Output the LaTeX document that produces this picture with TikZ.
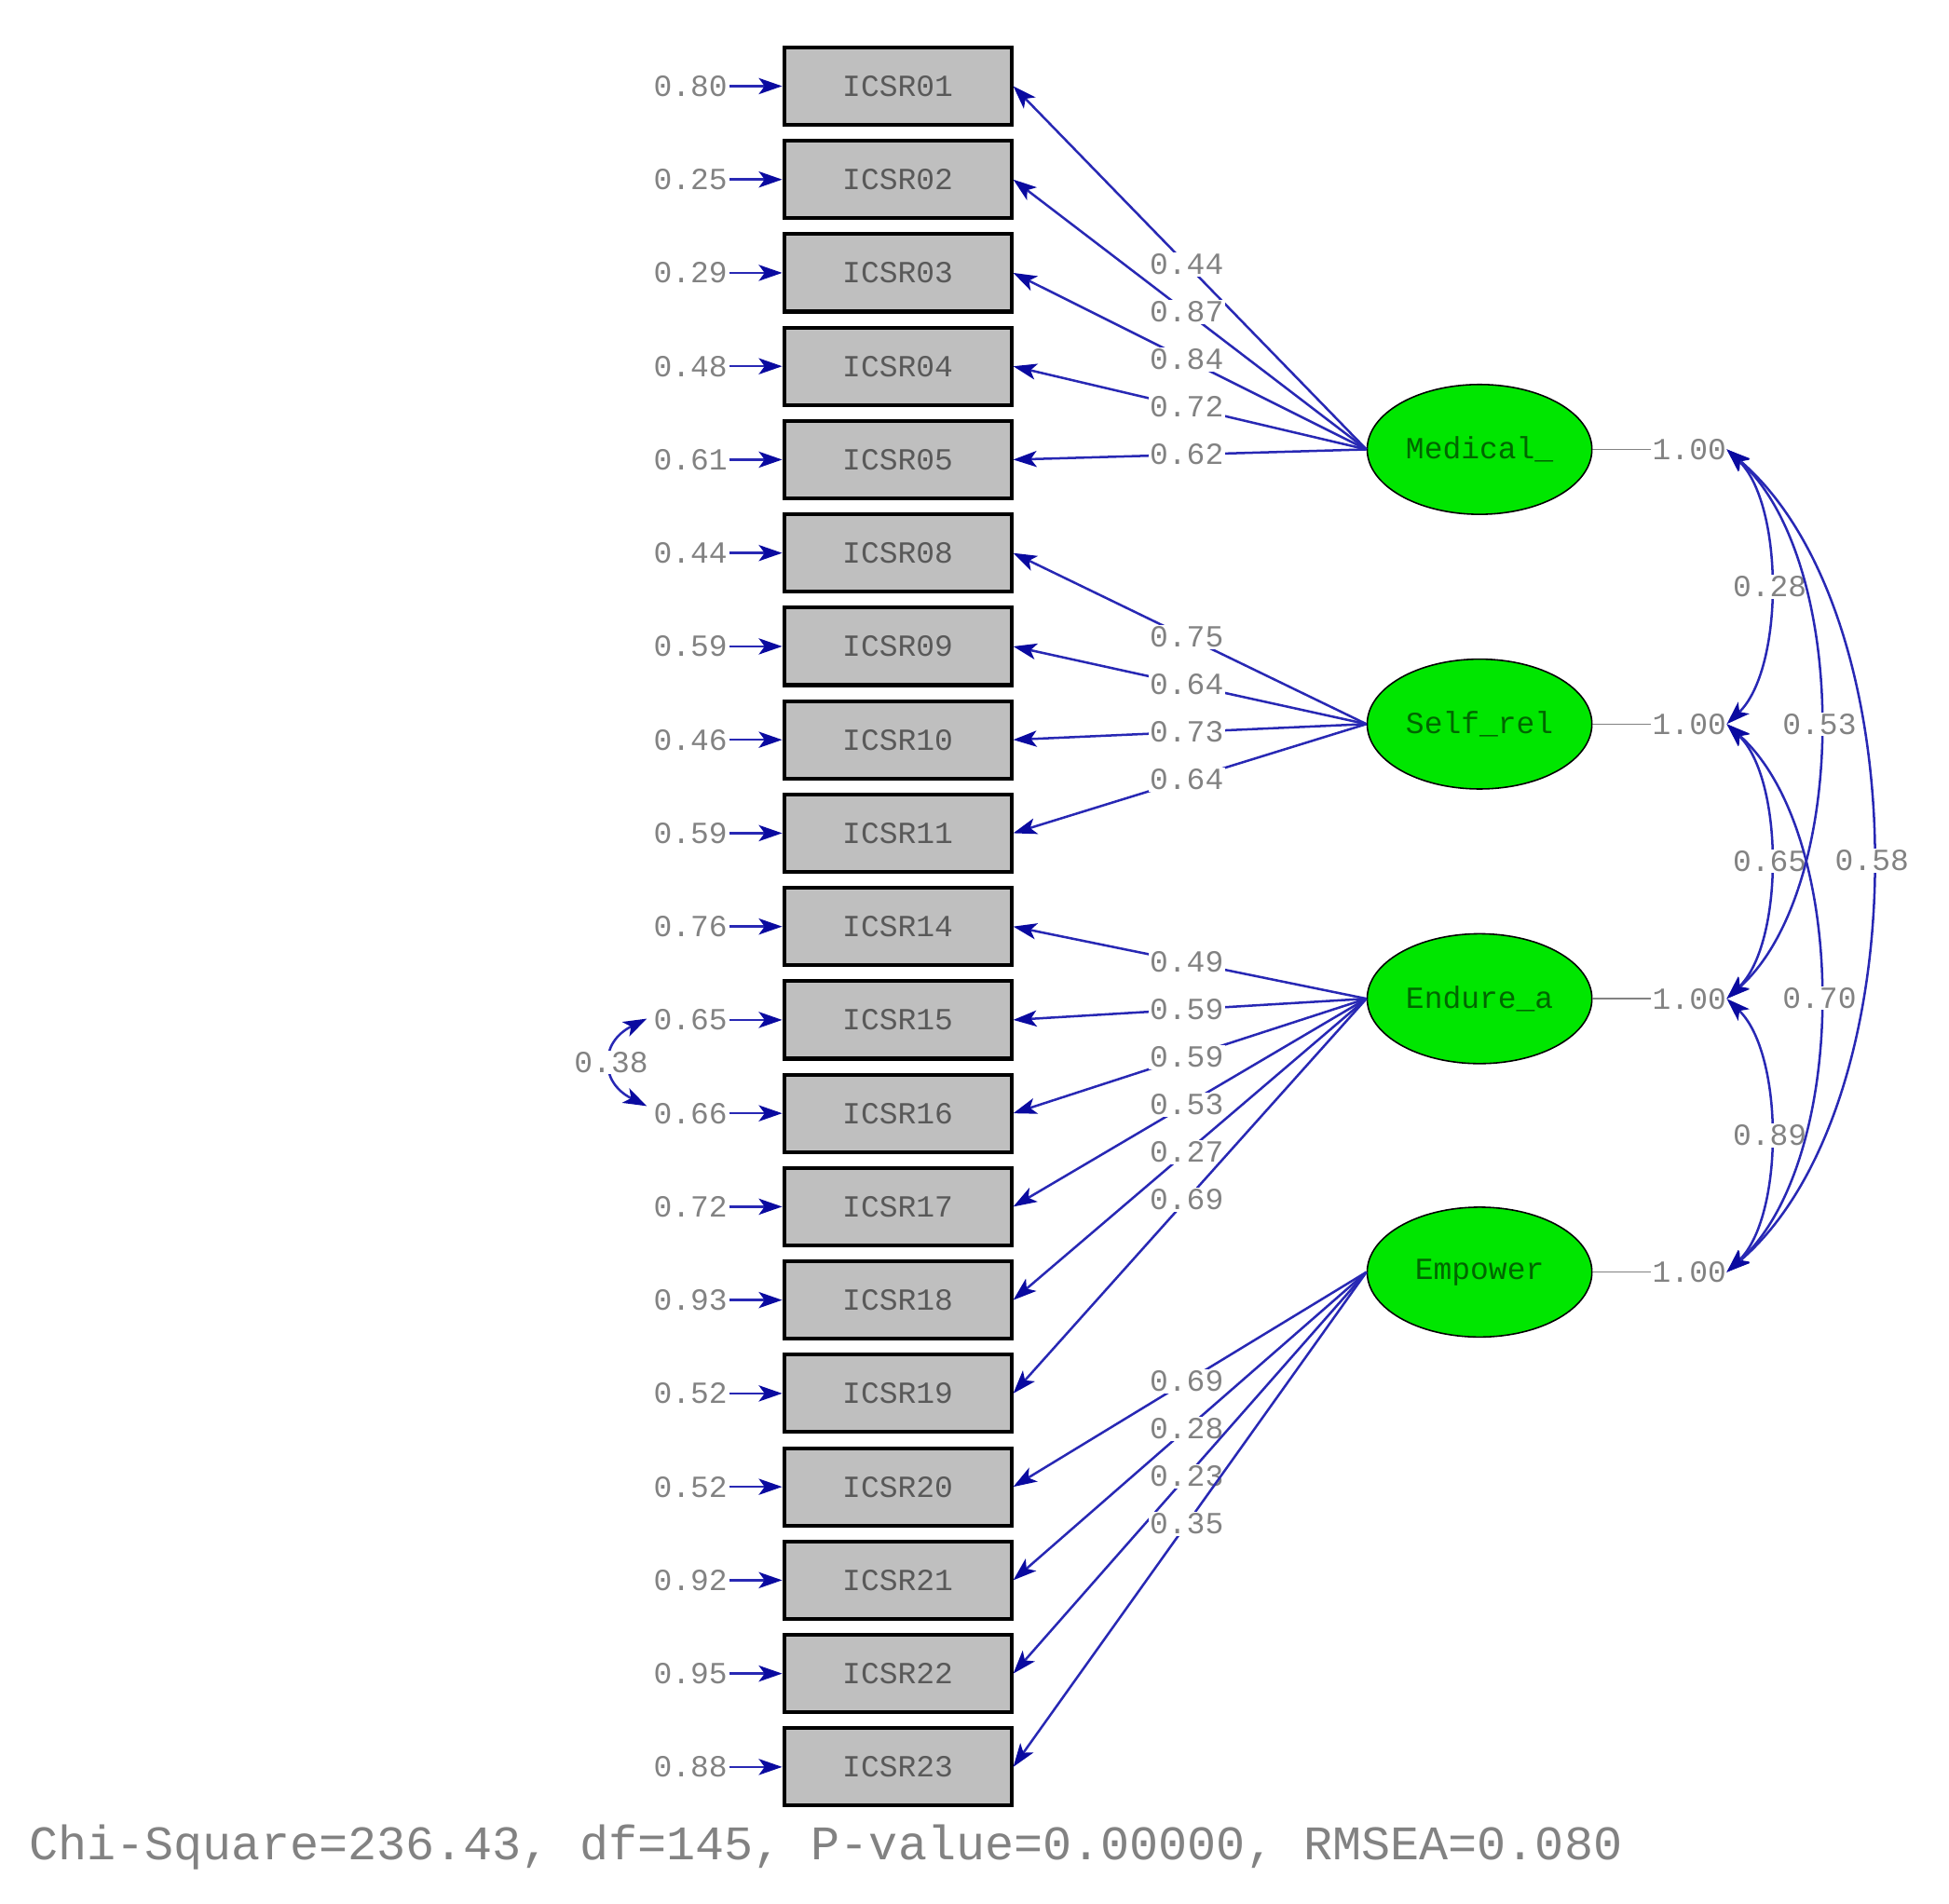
\documentclass[tikz,border=0pt]{standalone}
\usepackage{fontspec}
\setmainfont{Liberation Mono}
\usetikzlibrary{arrows.meta,shapes.geometric}
\definecolor{lblue}{RGB}{40,40,180}
\definecolor{tipb}{RGB}{10,10,160}
\definecolor{lgray}{RGB}{130,130,130}
\definecolor{egreen}{RGB}{0,230,0}
\begin{document}
\begin{tikzpicture}[x=0.03cm,y=-0.03cm,
  box/.style={draw=black,line width=2.6pt,fill=black!25,minimum width=5.46cm,minimum height=1.86cm,inner sep=0,text=black!65,font=\fontsize{21}{21}\selectfont},
  lat/.style={ellipse,draw=black,line width=1pt,fill=egreen,minimum width=5.4cm,minimum height=3.12cm,text=black!60!green,font=\fontsize{21}{21}\selectfont},
  lab/.style={text=lgray,font=\fontsize{21}{21}\selectfont,inner sep=1pt},
  wlab/.style={lab,fill=white},
  arr/.style={draw=lblue,line width=1.6pt,-{Stealth[length=16pt,width=11pt,inset=4pt,color=tipb]}},
  darr/.style={draw=lblue,line width=1.6pt,{Stealth[length=16pt,width=11pt,inset=4pt,color=tipb]}-{Stealth[length=16pt,width=11pt,inset=4pt,color=tipb]}}]
\useasboundingbox (0,0) rectangle (1561,1525);
\foreach \n/\e [count=\i from 0] in {01/0.80,02/0.25,03/0.29,04/0.48,05/0.61,08/0.44,09/0.59,10/0.46,11/0.59,14/0.76,15/0.65,16/0.66,17/0.72,18/0.93,19/0.52,20/0.52,21/0.92,22/0.95,23/0.88}{
  \node[box] (b\n) at (719,{69+74.8*\i}) {ICSR\n};
  \node[lab,anchor=east] (e\n) at (584,{69+74.8*\i}) {\e};
  \draw[arr] (e\n) -- (b\n);
}
\node[lat] (M) at (1185,360) {Medical\_};
\node[lat] (S) at (1185,580) {Self\_rel};
\node[lat] (E) at (1185,800) {Endure\_a};
\node[lat] (P) at (1185,1019) {Empower};
\foreach \L/\lst in {M/{01/0.44,02/0.87,03/0.84,04/0.72,05/0.62},S/{08/0.75,09/0.64,10/0.73,11/0.64},E/{14/0.49,15/0.59,16/0.59,17/0.53,18/0.27,19/0.69},P/{20/0.69,21/0.28,22/0.23,23/0.35}}{
  \foreach \n/\v in \lst {
    \draw[arr] (\L.west) -- node[wlab,pos=0.509] {\v} (b\n.east);
  }
}
\foreach \L/\y in {M/360,S/580,E/800,P/1019}{
  \node[lab] (one\L) at (1353,\y) {1.00};
  \draw[lgray,line width=1pt] (\L.east) -- (one\L.west);
  \coordinate (c\L) at (1383,\y);
}
\draw[darr] (cM) .. controls (1429,404) and (1429,536) .. node[wlab,pos=0.5] {0.28} (cS);
\draw[darr] (cS) .. controls (1429,624) and (1429,756) .. node[wlab,pos=0.5] {0.65} (cE);
\draw[darr] (cE) .. controls (1429,844) and (1429,975) .. node[wlab,pos=0.5] {0.89} (cP);
\draw[darr] (cM) .. controls (1482,448) and (1482,712) .. node[wlab,pos=0.5] {0.53} (cE);
\draw[darr] (cS) .. controls (1482,668) and (1482,931) .. node[wlab,pos=0.5] {0.70} (cP);
\draw[darr] (cM) .. controls (1538,492) and (1538,887) .. node[wlab,pos=0.5] {0.58} (cP);
\coordinate (x1) at (518,816);
\coordinate (x2) at (518,886);
\draw[darr] (x1) .. controls (480,835) and (480,867) .. node[wlab,pos=0.5] {0.38} (x2);
\node[lab,anchor=west,font=\fontsize{33}{33}\selectfont] (chi) at (22,1480) {Chi-Square=236.43, df=145, P-value=0.00000, RMSEA=0.080};
\end{tikzpicture}
\end{document}
